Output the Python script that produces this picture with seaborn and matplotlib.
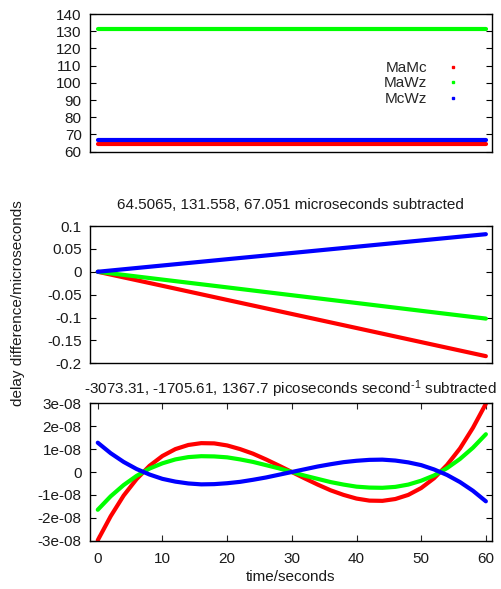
import numpy as np
import pandas as pd
import matplotlib
matplotlib.use("Agg")
import matplotlib.pyplot as plt
from matplotlib.lines import Line2D
import seaborn as sns

# ---------------- data ----------------
pairs = ["MaMc", "MaWz", "McWz"]
colors = ["#ff0000", "#00ff00", "#0000ff"]

# top panel: raw delays (microseconds)
t_top = [0, 10, 20, 30, 40, 50, 60]
top_MaMc = [64.5065] * 7
top_MaWz = [131.558] * 7
top_McWz = [67.051] * 7

# middle panel: constant subtracted (microseconds)
t_mid = [0, 10, 20, 30, 40, 50, 60]
mid_MaMc = [0.0, -0.0307, -0.0615, -0.0922, -0.1229, -0.1537, -0.1844]
mid_MaWz = [0.0, -0.0171, -0.0341, -0.0512, -0.0682, -0.0853, -0.1023]
mid_McWz = [0.0, 0.0137, 0.0274, 0.0410, 0.0547, 0.0684, 0.0821]

# bottom panel: rate subtracted residuals (microseconds)
t_bot = [0, 2, 4, 6, 8, 10, 12, 14, 16, 18, 20, 22, 24, 26, 28, 30,
         32, 34, 36, 38, 40, 42, 44, 46, 48, 50, 52, 54, 56, 58, 60]
bot_MaMc = [-2.98e-08, -1.93e-08, -1.03e-08, -0.31e-08, 0.27e-08, 0.70e-08,
            1.00e-08, 1.18e-08, 1.26e-08, 1.25e-08, 1.16e-08, 1.00e-08,
            0.80e-08, 0.55e-08, 0.28e-08, 0.0, -0.28e-08, -0.55e-08,
            -0.80e-08, -1.00e-08, -1.16e-08, -1.25e-08, -1.26e-08, -1.18e-08,
            -1.00e-08, -0.70e-08, -0.27e-08, 0.31e-08, 1.03e-08, 1.93e-08,
            2.98e-08]
bot_MaWz = [-1.65e-08, -1.06e-08, -0.57e-08, -0.17e-08, 0.15e-08, 0.38e-08,
            0.55e-08, 0.65e-08, 0.69e-08, 0.68e-08, 0.64e-08, 0.55e-08,
            0.44e-08, 0.30e-08, 0.16e-08, 0.0, -0.16e-08, -0.30e-08,
            -0.44e-08, -0.55e-08, -0.64e-08, -0.68e-08, -0.69e-08, -0.65e-08,
            -0.55e-08, -0.38e-08, -0.15e-08, 0.17e-08, 0.57e-08, 1.06e-08,
            1.65e-08]
bot_McWz = [1.28e-08, 0.82e-08, 0.44e-08, 0.13e-08, -0.11e-08, -0.30e-08,
            -0.42e-08, -0.50e-08, -0.54e-08, -0.53e-08, -0.49e-08, -0.43e-08,
            -0.34e-08, -0.24e-08, -0.12e-08, 0.0, 0.12e-08, 0.24e-08,
            0.34e-08, 0.43e-08, 0.49e-08, 0.53e-08, 0.54e-08, 0.50e-08,
            0.42e-08, 0.30e-08, 0.11e-08, -0.13e-08, -0.44e-08, -0.82e-08,
            -1.28e-08]

top_yticks = [60, 70, 80, 90, 100, 110, 120, 130, 140]
top_yticklabels = ["60", "70", "80", "90", "100", "110", "120", "130", "140"]
mid_yticks = [-0.2, -0.15, -0.1, -0.05, 0, 0.05, 0.1]
mid_yticklabels = ["-0.2", "-0.15", "-0.1", "-0.05", "0", "0.05", "0.1"]
bot_yticks = [-3e-08, -2e-08, -1e-08, 0, 1e-08, 2e-08, 3e-08]
bot_yticklabels = ["-3e-08", "-2e-08", "-1e-08", "0", "1e-08", "2e-08", "3e-08"]
xticks = [0, 10, 20, 30, 40, 50, 60]
xticklabels = ["0", "10", "20", "30", "40", "50", "60"]

mid_title = "64.5065, 131.558, 67.051 microseconds subtracted"
bot_title = r"-3073.31, -1705.61, 1367.7 picoseconds second$^{\text{-1}}$ subtracted"
ylabel = "delay difference/microseconds"
xlabel = "time/seconds"


def long_df(t, series):
    rows = []
    for name, vals in zip(pairs, series):
        for ti, v in zip(t, vals):
            rows.append({"t": ti, "v": v, "pair": name})
    return pd.DataFrame(rows)


df_top = long_df(t_top, [top_MaMc, top_MaWz, top_McWz])
df_mid = long_df(t_mid, [mid_MaMc, mid_MaWz, mid_McWz])
df_bot = long_df(t_bot, [bot_MaMc, bot_MaWz, bot_McWz])

# ---------------- style ----------------
sns.set_style("white")
plt.rcParams["font.family"] = ["Liberation Sans", "DejaVu Sans"]
plt.rcParams["axes.unicode_minus"] = False
plt.rcParams["mathtext.fontset"] = "custom"
plt.rcParams["mathtext.rm"] = "Liberation Sans"
plt.rcParams["mathtext.it"] = "Liberation Sans"
FS = 11
TC = "#1a1a1a"
palette = dict(zip(pairs, colors))

fig = plt.figure(figsize=(5.01, 5.89), dpi=100)
W, H = 501.0, 589.0
L, R = 90 / W, 491.7 / W


def make_ax(top_px, bot_px):
    return fig.add_axes([L, 1 - bot_px / H, R - L, (bot_px - top_px) / H])


ax_top = make_ax(14, 151.7)
ax_mid = make_ax(226, 363.3)
ax_bot = make_ax(403.3, 540.7)

for ax, df in [(ax_top, df_top), (ax_mid, df_mid), (ax_bot, df_bot)]:
    sns.lineplot(data=df, x="t", y="v", hue="pair", palette=palette, ax=ax,
                 linewidth=3.0, legend=False, estimator=None, sort=True)
    ax.set_xlim(-1.2, 60.9)
    ax.set_xlabel("")
    ax.set_ylabel("")
    for s in ax.spines.values():
        s.set_visible(True)
        s.set_linewidth(1.0)
        s.set_color("black")
    ax.tick_params(axis="y", direction="in", length=4, width=0.8, left=True,
                   right=True, labelsize=FS, pad=6, colors="black")
    ax.tick_params(axis="y", labelcolor=TC)

ax_top.set_ylim(60, 140)
ax_top.set_yticks(top_yticks, top_yticklabels)
ax_mid.set_ylim(-0.2, 0.1)
ax_mid.set_yticks(mid_yticks, mid_yticklabels)
ax_bot.set_ylim(-3e-08, 3e-08)
ax_bot.set_yticks(bot_yticks, bot_yticklabels)

for ax in (ax_top, ax_mid):
    ax.set_xticks([])
ax_bot.set_xticks(xticks, xticklabels)
ax_bot.tick_params(axis="x", direction="in", length=4, width=0.8, bottom=True,
                   top=True, labelsize=FS, pad=8, labelcolor=TC)
ax_bot.set_xlabel(xlabel, fontsize=FS, labelpad=3, color=TC)

ax_mid.set_title(mid_title, fontsize=FS, pad=12, color=TC)
ax_bot.set_title(bot_title, fontsize=FS, pad=7, color=TC)

fig.text(18 / W, 1 - 303 / H, ylabel, rotation=90, ha="center", va="center",
         fontsize=FS, color=TC)

handles = [Line2D([], [], marker="s", markersize=2.0, linestyle="none",
                  color=c) for c in colors]
ax_top.legend(handles, pairs, loc="upper right", bbox_to_anchor=(0.93, 0.715),
              frameon=False, markerfirst=False, fontsize=FS, handlelength=0.4,
              handletextpad=1.5, labelspacing=0.1, borderpad=0)

fig.savefig("out.png", dpi=100)
